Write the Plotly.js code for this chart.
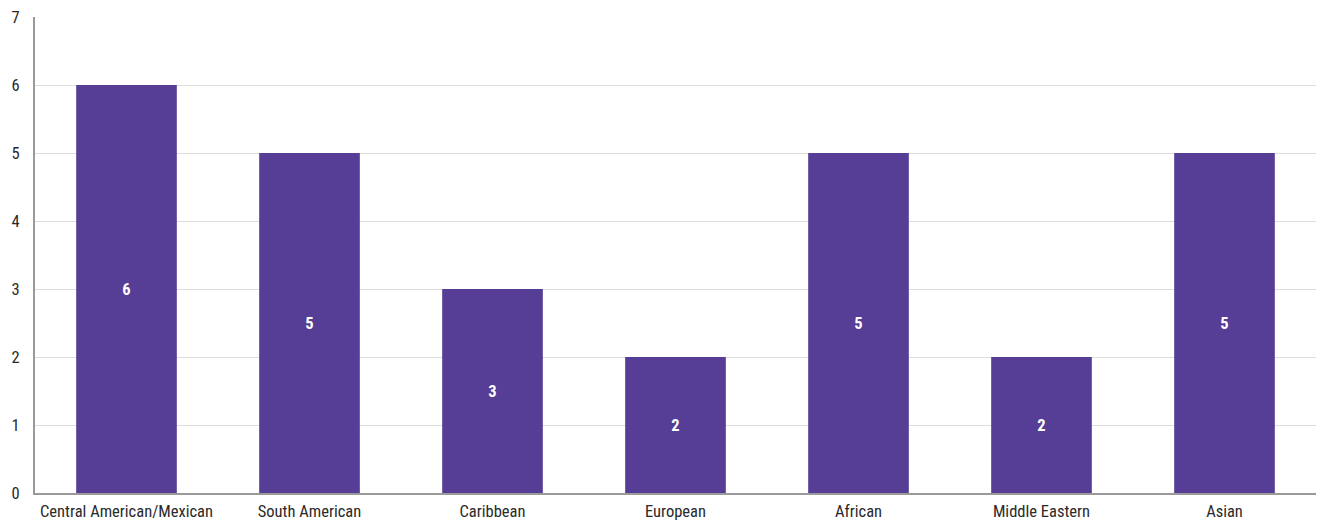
<!DOCTYPE html>
<html>
<head>
<meta charset="utf-8">
<script src="https://cdn.plot.ly/plotly-3.0.1.min.js"></script>
<style>html,body{margin:0;padding:0;background:#fff;}#chart{width:1318px;height:524px;}</style>
</head>
<body>
<div id="chart"></div>
<script>
const categories = ["Central American/Mexican", "South American", "Caribbean", "European", "African", "Middle Eastern", "Asian"];
const values = [6, 5, 3, 2, 5, 2, 5];
const yTicks = [0, 1, 2, 3, 4, 5, 6, 7];

const FONT = '"Roboto Condensed", "DejaVu Sans Condensed", sans-serif';

const trace = {
  type: 'bar',
  x: categories,
  y: values,
  text: values.map(String),
  textposition: 'inside',
  insidetextanchor: 'middle',
  textangle: 0,
  textfont: {family: FONT, size: 16.5, color: '#ffffff', weight: 'bold'},
  marker: {color: '#563D96'},
  hoverinfo: 'none'
};

const layout = {
  width: 1318, height: 524,
  margin: {l: 35, r: 2, t: 17, b: 31},
  paper_bgcolor: '#ffffff', plot_bgcolor: '#ffffff',
  bargap: 0.45,
  showlegend: false,
  font: {family: FONT, size: 16.5, color: '#2a2a2a'},
  xaxis: {
    type: 'category',
    showgrid: false,
    showline: true, linecolor: '#9a9a9a', linewidth: 2,
    ticks: '', ticklabelstandoff: 2,
    tickfont: {family: FONT, size: 16.5, color: '#2a2a2a'}
  },
  yaxis: {
    range: [0, 7],
    tickvals: yTicks,
    showgrid: true, gridcolor: '#dddddd', gridwidth: 1,
    zeroline: false,
    showline: true, linecolor: '#9a9a9a', linewidth: 2,
    ticks: '', ticklabelstandoff: 10,
    tickfont: {family: FONT, size: 16.5, color: '#2a2a2a'}
  }
};

Plotly.newPlot('chart', [trace], layout, {displayModeBar: false, staticPlot: true});
</script>
</body>
</html>
